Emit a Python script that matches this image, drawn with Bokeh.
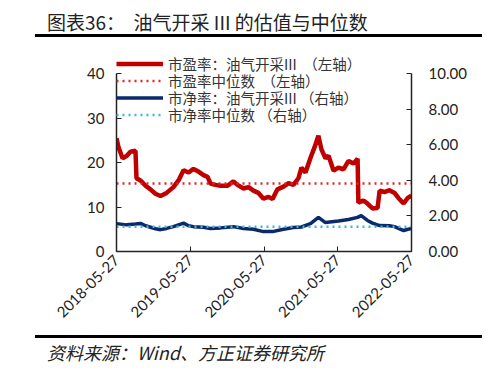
import pandas as pd
from math import pi
from bokeh.plotting import figure
from bokeh.layouts import column
from bokeh.models import (Range1d, LinearAxis, FixedTicker, DatetimeTickFormatter,
                          NumeralTickFormatter, Legend, LegendItem, Div)
from bokeh.embed import file_html
from bokeh.resources import INLINE

# ---------------- data ----------------
pe_dates = ["2018-05-27", "2018-06-06", "2018-06-26", "2018-07-16", "2018-08-04", "2018-08-29",
            "2018-09-03", "2018-09-23", "2018-10-18", "2018-11-11", "2018-12-06", "2018-12-31",
            "2019-01-30", "2019-03-05", "2019-03-30", "2019-04-24", "2019-05-19", "2019-06-12",
            "2019-07-07", "2019-08-01", "2019-08-21", "2019-09-05", "2019-09-29", "2019-10-24",
            "2019-11-28", "2019-12-27", "2020-01-16", "2020-02-15", "2020-03-11", "2020-04-04",
            "2020-04-29", "2020-05-24", "2020-06-18", "2020-07-08", "2020-08-01", "2020-08-31",
            "2020-09-25", "2020-10-19", "2020-11-13", "2020-11-28", "2020-12-18", "2021-01-12",
            "2021-02-01", "2021-02-20", "2021-03-07", "2021-03-27", "2021-04-11", "2021-05-06",
            "2021-05-30", "2021-06-24", "2021-07-19", "2021-08-13", "2021-09-02", "2021-09-06",
            "2021-10-01", "2021-10-21", "2021-11-15", "2021-12-10", "2021-12-20", "2022-01-13",
            "2022-02-07", "2022-03-04", "2022-03-24", "2022-04-18", "2022-05-07", "2022-05-27"]
pe_values = [25.5, 23.5, 21.0, 21.5, 22.5, 22.7,
             16.5, 16.0, 14.8, 14.0, 13.0, 12.5,
             13.2, 14.5, 16.0, 18.3, 17.8, 18.6,
             18.0, 17.2, 16.8, 15.3, 15.0, 14.8,
             14.8, 15.8, 15.0, 14.2, 14.5, 13.7,
             13.2, 11.9, 12.3, 11.8, 14.0, 14.6,
             15.4, 15.0, 16.5, 18.9, 17.8, 21.1,
             23.5, 26.1, 23.0, 21.0, 21.6, 18.2,
             18.9, 18.5, 20.4, 19.8, 20.9, 11.0,
             11.5, 10.8, 9.7, 9.8, 13.7, 13.4,
             13.8, 13.2, 12.0, 10.8, 12.0, 12.6]
pe_median = 15.3

pb_dates = ["2018-05-27", "2018-07-16", "2018-08-29", "2018-09-23", "2018-10-18", "2018-12-06",
            "2018-12-31", "2019-01-30", "2019-03-05", "2019-04-24", "2019-05-19", "2019-06-12",
            "2019-08-01", "2019-09-05", "2019-10-24", "2019-12-27", "2020-02-15", "2020-04-04",
            "2020-05-24", "2020-07-08", "2020-08-31", "2020-10-19", "2020-11-28", "2021-01-12",
            "2021-02-20", "2021-03-27", "2021-05-30", "2021-07-19", "2021-09-02", "2021-09-20",
            "2021-10-21", "2021-11-15", "2021-12-20", "2022-02-07", "2022-03-04", "2022-04-18",
            "2022-05-27"]
pb_values = [1.57, 1.50, 1.55, 1.58, 1.45, 1.28,
             1.23, 1.30, 1.40, 1.60, 1.45, 1.40,
             1.37, 1.30, 1.33, 1.40, 1.30, 1.25,
             1.12, 1.12, 1.25, 1.35, 1.38, 1.57,
             1.92, 1.63, 1.72, 1.80, 1.92, 2.02,
             1.75, 1.60, 1.46, 1.45, 1.40, 1.18,
             1.30]
pb_median = 1.40

x_ticks = ["2018-05-27", "2019-05-27", "2020-05-27", "2021-05-27", "2022-05-27"]
left_ticks = [0, 10, 20, 30, 40]
right_ticks = [0, 2, 4, 6, 8, 10]

labels = ["市盈率：油气开采III  （左轴）", "市盈率中位数  （左轴）",
          "市净率：油气开采III （右轴）", "市净率中位数 （右轴）"]
title_text = "图表36：&nbsp;&nbsp;油气开采 III 的估值与中位数"
source_text = "资料来源：Wind、方正证券研究所"

# ---------------- layout constants (page px) ----------------
W = 496
TITLE_H = 37          # title strip: 0 -> 37 (includes the top rule)
FIG_TOP, FIG_BOTTOM = 37, 330
SRC_H = 45            # source strip: 330 -> 375 (includes the bottom rule)
FL, FR, FB = 116, 411, 251
PX_PER = (251 - 73) / 40.0
Y_TOP = 45.5
FT = FB - Y_TOP * PX_PER
CJK = "Noto Sans CJK SC"

# ---------------- main figure ----------------
pe_x = pd.to_datetime(pe_dates)
pb_x = pd.to_datetime(pb_dates)
tick_x = pd.to_datetime(x_ticks)
tick_ms = [t.value / 1e6 for t in tick_x]

p = figure(width=W, height=FIG_BOTTOM - FIG_TOP, x_axis_type="datetime", output_backend="svg",
           toolbar_location=None, min_border_left=FL, min_border_right=W - FR,
           min_border_top=int(round(FT - FIG_TOP)), min_border_bottom=FIG_BOTTOM - FB,
           x_range=Range1d(tick_x[0], tick_x[-1]), y_range=Range1d(0, Y_TOP),
           margin=0)
p.extra_y_ranges = {"right": Range1d(0, Y_TOP / 4.0)}
p.outline_line_color = None
p.grid.visible = False
p.background_fill_color = "white"
p.border_fill_color = "white"

TICK_FONT = "Lato"
AX_COLOR = "#222222"

p.xaxis.ticker = FixedTicker(ticks=tick_ms)
p.xaxis.formatter = DatetimeTickFormatter(days="%Y-%m-%d", months="%Y-%m-%d", years="%Y-%m-%d",
                                          hours="%Y-%m-%d", minutes="%Y-%m-%d")
p.xaxis.major_label_orientation = pi / 4
p.yaxis.ticker = FixedTicker(ticks=left_ticks)
p.yaxis.bounds = (0, 40)

right_axis = LinearAxis(y_range_name="right", ticker=FixedTicker(ticks=right_ticks),
                        formatter=NumeralTickFormatter(format="0.00"), bounds=(0, 10))
p.add_layout(right_axis, "right")

for ax in [p.xaxis[0], p.yaxis[0], right_axis]:
    ax.axis_line_color = AX_COLOR
    ax.axis_line_width = 1.5
    ax.major_tick_line_color = AX_COLOR
    ax.major_tick_in = 5
    ax.major_tick_out = 0
    ax.minor_tick_line_color = None
    ax.major_label_text_font = TICK_FONT
    ax.major_label_text_font_size = "15px"
    ax.major_label_text_color = AX_COLOR
p.yaxis[0].major_label_standoff = 12
right_axis.major_label_standoff = 17
p.xaxis[0].major_label_standoff = 6

RED = "#C00000"
RED_DOT = "#E02828"
NAVY = "#0A2A6B"
CYAN = "#3CB8D8"

r_pe = p.line(pe_x, pe_values, line_color=RED, line_width=4.5)
r_pe_med = p.line([tick_x[0], tick_x[-1]], [pe_median, pe_median], line_color=RED_DOT,
                  line_width=2.5, line_dash="2 4")
r_pb = p.line(pb_x, pb_values, line_color=NAVY, line_width=3.5, y_range_name="right")
r_pb_med = p.line([tick_x[0], tick_x[-1]], [pb_median, pb_median], line_color=CYAN,
                  line_width=2.5, line_dash="2 4", y_range_name="right")

# one legend per row, so the rows can sit 17px apart as in the original
row_centers = [65, 82, 99, 116]
for lab, rend, cy in zip(labels, [r_pe, r_pe_med, r_pb, r_pb_med], row_centers):
    lg = Legend(items=[LegendItem(label=lab, renderers=[rend])],
                location=(0, FB - cy - 8.5), padding=0, margin=0, spacing=0,
                glyph_width=47, glyph_height=17, label_height=17, label_standoff=5,
                label_text_font=CJK, label_text_font_size="14.5px",
                label_text_color="#333333", background_fill_alpha=0,
                border_line_color=None)
    p.add_layout(lg, "center")


# ---------------- horizontal rules (CSS) ----------------
def rule_html(top):
    return ('<div style="position:absolute;left:35px;top:%dpx;width:447px;height:3px;'
            'background-color:#000000;"></div>' % top)


# ---------------- title / source strips ----------------
title_html = (
    '<div style="position:relative;width:%dpx;height:%dpx;">'
    '<span style="position:absolute;left:47px;top:10px;font-family:\'%s\';font-size:19px;'
    'line-height:24px;color:#222;white-space:nowrap;">%s</span>' % (W, TITLE_H, CJK, title_text)
    + rule_html(34) + '</div>')
title_div = Div(text=title_html, width=W, height=TITLE_H, margin=0)

source_html = (
    '<div style="position:relative;width:%dpx;height:%dpx;">' % (W, SRC_H)
    + rule_html(5)
    + '<span style="position:absolute;left:47px;top:%dpx;font-family:\'%s\';font-size:18px;'
    'font-style:italic;line-height:22px;color:#222;white-space:nowrap;">%s</span>'
    '</div>' % (352 - 11 - FIG_BOTTOM, CJK, source_text))
source_div = Div(text=source_html, width=W, height=SRC_H, margin=0)

page = column(title_div, p, source_div, spacing=0)

open("out.html", "w").write(file_html(page, INLINE))
